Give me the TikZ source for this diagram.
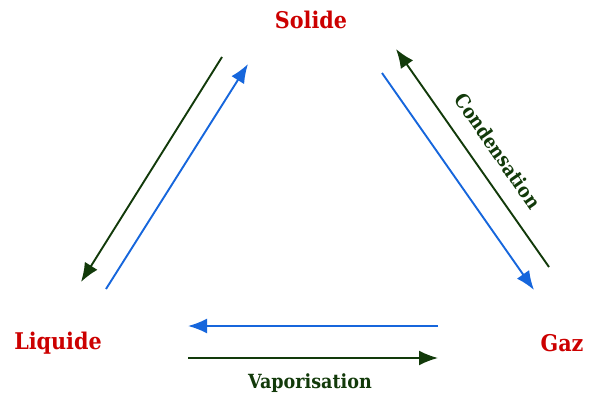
\documentclass[tikz,border=0pt]{standalone}
\usepackage{fontspec}
\setmainfont{DejaVu Serif Condensed}
\usetikzlibrary{arrows.meta}
\definecolor{phred}{RGB}{204,0,0}
\definecolor{phgreen}{RGB}{18,58,10}
\definecolor{phblue}{RGB}{22,102,220}
\tikzset{
  x=1pt, y=-1pt,
  phase/.style={text=phred, font=\bfseries\fontsize{23}{26}\selectfont, inner sep=0pt},
  lab/.style={text=phgreen, font=\bfseries\fontsize{19.5}{22}\selectfont, inner sep=0pt},
  tip/.style={-{Latex[length=19pt 0 0,width=15pt 0 0]}},
  garrow/.style={draw=phgreen, line width=1.9pt, tip},
  barrow/.style={draw=phblue, line width=1.9pt, tip},
}
\begin{document}
\begin{tikzpicture}
\useasboundingbox (0,0) rectangle (591,401);
\node[phase] (sol) at (311,20) {Solide};
\node[phase] (liq) at (58,343) {Liquide};
\node[phase] (gaz) at (562,343) {Gaz};
% free ends
\coordinate (g1s) at (222,57);  \coordinate (g1e) at (81,282);
\coordinate (b1s) at (106,289); \coordinate (b1e) at (248,64);
\coordinate (b2s) at (382,73);  \coordinate (b2e) at (534,290);
\coordinate (g2s) at (549,267); \coordinate (g2e) at (396,49);
\coordinate (b3s) at (438,326); \coordinate (b3e) at (188,326);
\coordinate (g3s) at (188,358); \coordinate (g3e) at (438,358);
\draw[garrow] (g1s) -- (g1e);
\draw[barrow] (b1s) -- (b1e);
\draw[barrow] (b2s) -- (b2e);
\draw[garrow] (g2s) -- (g2e);
\draw[barrow] (b3s) -- (b3e);
\draw[garrow] (g3s) -- (g3e);
\node[lab, rotate=-55] (cond) at (498,151) {Condensation};
\node[lab] (vap) at (310,383) {Vaporisation};
\end{tikzpicture}
\end{document}
